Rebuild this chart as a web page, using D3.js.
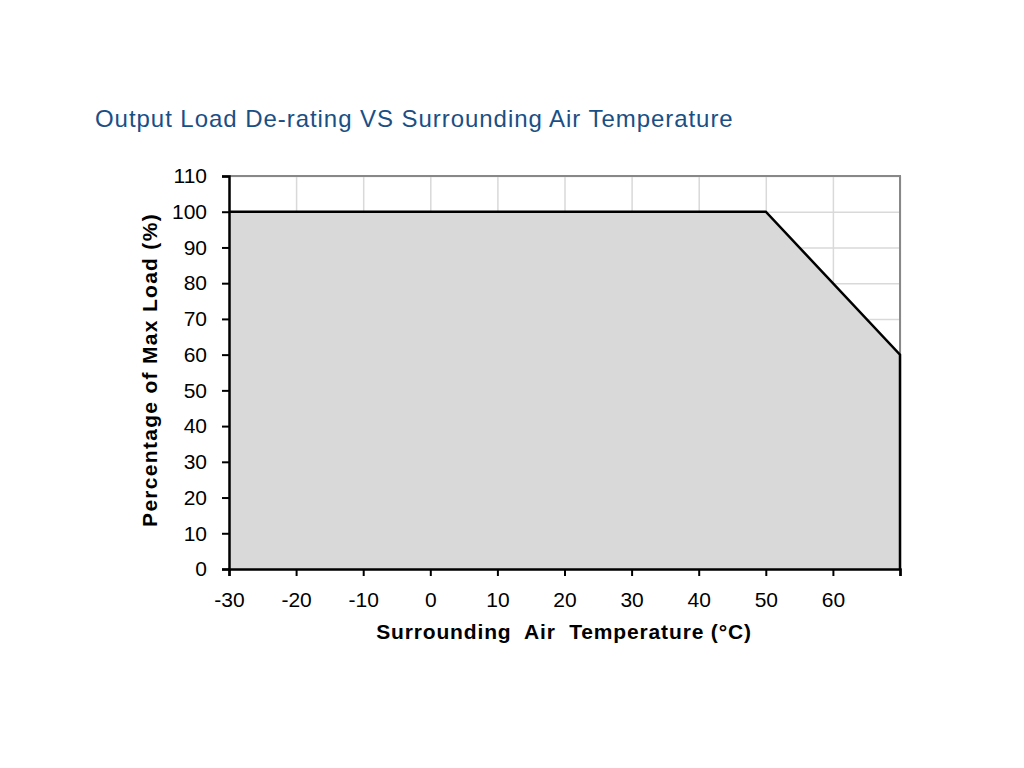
<html>
<head>
<meta charset="utf-8">
<script src="https://d3js.org/d3.v7.min.js"></script>
<style>
body { margin:0; background:#fff; font-family:"Liberation Sans", Arial, sans-serif; }
.grid line { stroke:#d9d9d9; stroke-width:1.5; }
.grid path { display:none; }
.axis text { font-size:21px; fill:#000; font-family:"Liberation Sans", Arial, sans-serif; }
.axis line { stroke:#000; stroke-width:2; }
.axis path { stroke:#000; stroke-width:2.5; }
</style>
</head>
<body>
<div id="chart"></div>
<script>

// temperature (°C) and load (%) of the de-rating curve
var temps = [-30, 50, 70];
var loads = [100, 100, 60];
var xTicks = [-30, -20, -10, 0, 10, 20, 30, 40, 50, 60, 70];
var yTicks = [0, 10, 20, 30, 40, 50, 60, 70, 80, 90, 100, 110];

var points = temps.map(function(t, i) { return {t: t, v: loads[i]}; });

let margin = {top:176, left:229},
    width = 671,
    height = 393;

let x = d3.scaleLinear().domain([-30, 70]).range([0, width]),
    y = d3.scaleLinear().domain([0, 110]).range([height, 0]);

let svg = d3.select("#chart").append("svg")
    .attr("width", 1024)
    .attr("height", 768);

svg.append("text")
    .attr("x", 95)
    .attr("y", 127)
    .attr("fill", "#1a4f85")
    .attr("font-size", 24)
    .attr("letter-spacing", 0.95)
    .text("Output Load De-rating VS Surrounding Air Temperature");

let g = svg.append("g")
    .attr("transform", "translate(" + margin.left + "," + margin.top + ")");

// grid
g.append("g")
    .attr("class", "grid")
    .call(d3.axisLeft(y).tickValues(yTicks).tickSize(-width).tickFormat(""));
g.append("g")
    .attr("class", "grid")
    .attr("transform", "translate(0," + height + ")")
    .call(d3.axisBottom(x).tickValues(xTicks).tickSize(-height).tickFormat(""));

// top & right border
g.append("path")
    .attr("d", "M0," + y(110) + "H" + x(70) + "V" + y(0))
    .attr("fill", "none")
    .attr("stroke", "#888")
    .attr("stroke-width", 2);

// shaded area
let area = d3.area()
    .x(function(d) { return x(d.t); })
    .y0(y(0))
    .y1(function(d) { return y(d.v); });

g.append("path")
    .datum(points)
    .attr("d", area)
    .attr("fill", "#d9d9d9");

let line = d3.line()
    .x(function(d) { return x(d.t); })
    .y(function(d) { return y(d.v); });

g.append("path")
    .datum(points.concat([{t: 70, v: 0}]))
    .attr("d", line)
    .attr("fill", "none")
    .attr("stroke", "#000")
    .attr("stroke-width", 2.5);

// axes
g.append("g")
    .attr("class", "axis")
    .attr("transform", "translate(0," + height + ")")
    .call(d3.axisBottom(x).tickValues(xTicks).tickSizeOuter(0).tickSize(7).tickPadding(16)
        .tickFormat(function(d) { return d === 70 ? "" : d; }));

g.append("g")
    .attr("class", "axis")
    .call(d3.axisLeft(y).tickValues(yTicks).tickSizeOuter(0).tickSize(7).tickPadding(15));

// axis labels
svg.append("text")
    .attr("x", 564)
    .attr("y", 639)
    .attr("text-anchor", "middle")
    .attr("font-size", 21)
    .attr("font-weight", "bold")
    .attr("letter-spacing", 0.85)
    .style("white-space", "pre")
    .text("Surrounding  Air  Temperature (°C)");

svg.append("text")
    .attr("transform", "translate(157,370) rotate(-90)")
    .attr("text-anchor", "middle")
    .attr("font-size", 21)
    .attr("font-weight", "bold")
    .attr("letter-spacing", 1.3)
    .text("Percentage of Max Load (%)");

</script>
</body>
</html>
